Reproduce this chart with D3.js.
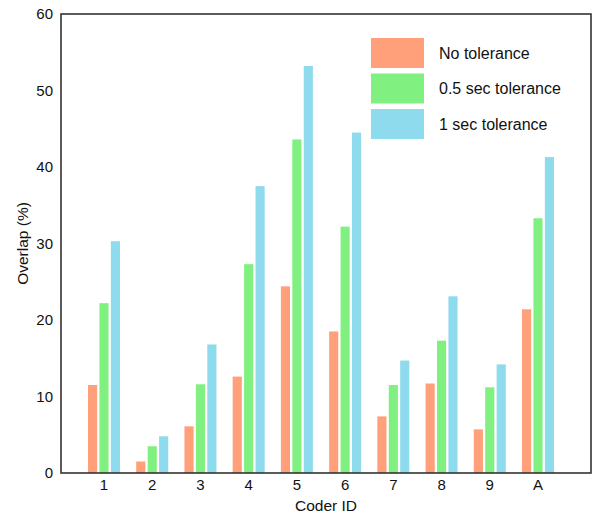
<!DOCTYPE html>
<html>
<head>
<meta charset="utf-8">
<script src="https://cdn.jsdelivr.net/npm/d3@7"></script>
<style>
  body { margin: 0; background: #fff; }
  text { font-family: "Liberation Sans", Arial, Helvetica, sans-serif; fill: #111; }
</style>
</head>
<body>
<div id="chart"></div>
<script>
// data
var coders = ['1', '2', '3', '4', '5', '6', '7', '8', '9', 'A'];
var seriesNames = ['No tolerance', '0.5 sec tolerance', '1 sec tolerance'];
var noTol = [11.5, 1.5, 6.1, 12.6, 24.4, 18.5, 7.4, 11.7, 5.7, 21.4];
var halfSec = [22.2, 3.5, 11.6, 27.3, 43.6, 32.2, 11.5, 17.3, 11.2, 33.3];
var oneSec = [30.3, 4.8, 16.8, 37.5, 53.2, 44.5, 14.7, 23.1, 14.2, 41.3];
var yTicks = [0, 10, 20, 30, 40, 50, 60];

var seriesValues = [noTol, halfSec, oneSec];
var colors = ['#FFA07A', '#80F080', '#8EDBEE'];

var width = 595, height = 513;
var margin = { top: 14, right: 4, bottom: 40, left: 61 };
var plotW = width - margin.left - margin.right,
    plotH = height - margin.top - margin.bottom;

var svg = d3.select('#chart')
    .append('svg')
    .attr('width', width)
    .attr('height', height);

var g = svg.append('g')
    .attr('transform', 'translate(' + margin.left + ',' + margin.top + ')');

var x = d3.scalePoint()
    .domain(coders)
    .range([43, plotW - 53]);

var sub = d3.scaleBand()
    .domain(d3.range(seriesNames.length))
    .range([-16, 16])
    .paddingInner(0.2);

var y = d3.scaleLinear()
    .domain([0, 60])
    .range([plotH, 0]);

// bars
var groups = g.selectAll('g.group')
    .data(coders)
    .enter()
    .append('g')
    .attr('class', 'group')
    .attr('transform', function(d) { return 'translate(' + x(d) + ',0)'; });

groups.selectAll('rect')
    .data(function(d, i) {
        return seriesValues.map(function(s, k) { return { k: k, v: s[i] }; });
    })
    .enter()
    .append('rect')
    .attr('x', function(d) { return sub(d.k); })
    .attr('width', sub.bandwidth())
    .attr('y', function(d) { return y(d.v); })
    .attr('height', function(d) { return plotH - y(d.v); })
    .attr('fill', function(d) { return colors[d.k]; });

// frame
g.append('rect')
    .attr('width', plotW)
    .attr('height', plotH)
    .attr('fill', 'none')
    .attr('stroke', '#333')
    .attr('stroke-width', 1.6);

// y tick labels
g.selectAll('.ytick')
    .data(yTicks)
    .enter()
    .append('text')
    .attr('class', 'ytick')
    .attr('x', -8)
    .attr('y', function(d) { return y(d); })
    .attr('dy', '0.35em')
    .attr('text-anchor', 'end')
    .style('font-size', '15px')
    .text(function(d) { return d; });

// x tick labels
g.selectAll('.xtick')
    .data(coders)
    .enter()
    .append('text')
    .attr('class', 'xtick')
    .attr('x', function(d) { return x(d); })
    .attr('y', plotH + 17)
    .attr('text-anchor', 'middle')
    .style('font-size', '15px')
    .text(function(d) { return d; });

// axis titles
svg.append('text')
    .attr('x', margin.left + plotW / 2)
    .attr('y', 511)
    .attr('text-anchor', 'middle')
    .style('font-size', '15.5px')
    .text('Coder ID');

svg.append('text')
    .attr('transform', 'translate(28,' + (margin.top + plotH / 2) + ') rotate(-90)')
    .attr('text-anchor', 'middle')
    .style('font-size', '15.5px')
    .text('Overlap (%)');

// legend
var legend = svg.selectAll('.legend')
    .data(seriesNames)
    .enter()
    .append('g')
    .attr('class', 'legend')
    .attr('transform', function(d, i) {
        return 'translate(371,' + (38 + i * 35.5) + ')';
    });

legend.append('rect')
    .attr('width', 53)
    .attr('height', 30)
    .attr('fill', function(d, i) { return colors[i]; });

legend.append('text')
    .attr('x', 68)
    .attr('y', 15)
    .attr('dy', '0.35em')
    .style('font-size', '16px')
    .text(function(d) { return d; });
</script>
</body>
</html>
